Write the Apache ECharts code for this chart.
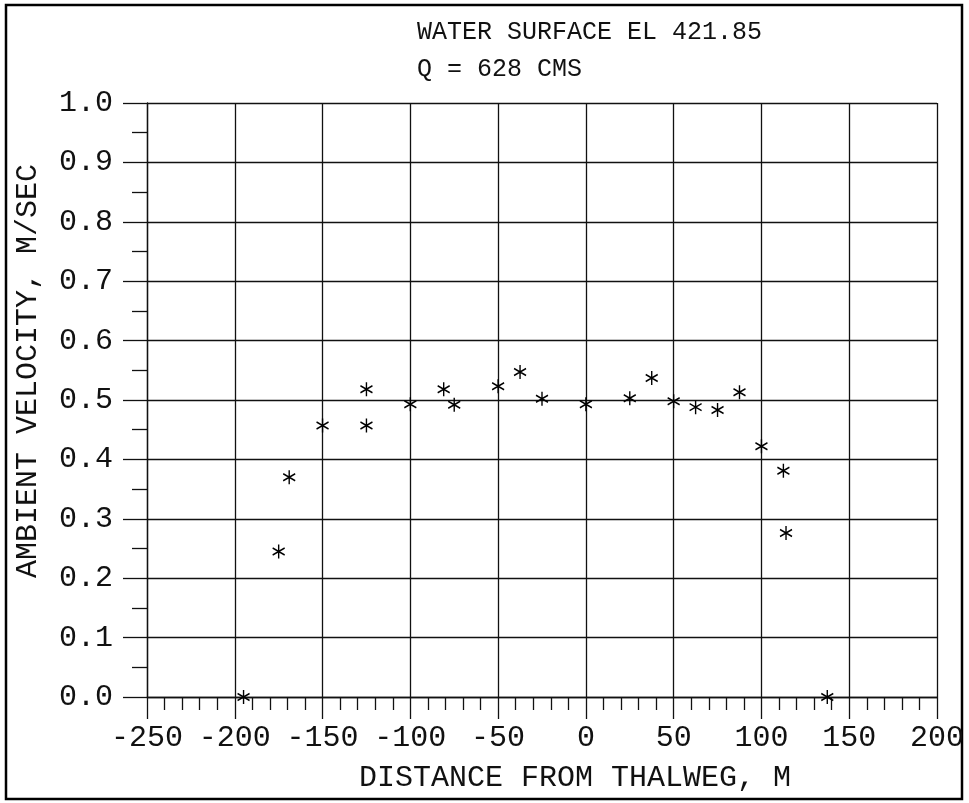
<!DOCTYPE html>
<html>
<head>
<meta charset="utf-8">
<script src="https://cdn.jsdelivr.net/npm/echarts@6/dist/echarts.min.js"></script>
<style>
  html, body { margin: 0; padding: 0; background: #fff; }
  #chart { width: 969px; height: 803px; }
</style>
</head>
<body>
<div id="chart"></div>
<script>
// Chart text
const titleLines = ['WATER SURFACE EL 421.85', 'Q = 628 CMS'];
const xAxisTitle = 'DISTANCE FROM THALWEG, M';
const yAxisTitle = 'AMBIENT VELOCITY, M/SEC';

// Axis ticks
const xTicks = [-250, -200, -150, -100, -50, 0, 50, 100, 150, 200];
const yTicks = [0.0, 0.1, 0.2, 0.3, 0.4, 0.5, 0.6, 0.7, 0.8, 0.9, 1.0];

// Measured ambient velocity across the section
const distance = [-195, -175, -169, -150, -125, -125, -100, -81, -75, -50, -37.5, -25, 0, 25, 37.5, 50, 62.5, 75, 87.5, 100, 112.5, 114, 137.5];
const velocity = [0.0, 0.245, 0.370, 0.457, 0.518, 0.457, 0.493, 0.518, 0.492, 0.523, 0.547, 0.502, 0.493, 0.503, 0.537, 0.498, 0.488, 0.483, 0.513, 0.422, 0.381, 0.276, 0.0];

const points = distance.map((d, i) => [d, velocity[i]]);

const FONT = 'Liberation Mono';
const INK = '#111';

// six-armed plotter asterisk
const asterisk = 'path://M0,-1L0,1M-0.866,-0.5L0.866,0.5M-0.866,0.5L0.866,-0.5';

const chart = echarts.init(document.getElementById('chart'), null, { renderer: 'canvas' });

chart.setOption({
  backgroundColor: '#fff',
  animation: false,
  title: [
    { text: titleLines[0], left: 412, top: 15,
      textStyle: { fontFamily: FONT, fontSize: 25, fontWeight: 'normal', color: INK } },
    { text: titleLines[1], left: 412, top: 52,
      textStyle: { fontFamily: FONT, fontSize: 25, fontWeight: 'normal', color: INK } }
  ],
  graphic: [{
    type: 'rect',
    shape: { x: 6, y: 5, width: 956, height: 794 },
    style: { fill: 'none', stroke: '#000', lineWidth: 2.5 },
    silent: true
  }],
  grid: { left: 147, right: 32, top: 103, bottom: 106, containLabel: false },
  xAxis: {
    type: 'value',
    min: xTicks[0],
    max: xTicks[xTicks.length - 1],
    interval: xTicks[1] - xTicks[0],
    name: xAxisTitle,
    nameLocation: 'middle',
    nameGap: 66,
    nameTextStyle: { fontFamily: FONT, fontSize: 30, color: INK, padding: [0, 0, 0, 66] },
    axisLine: { show: true, onZero: false, lineStyle: { color: INK, width: 1.3 } },
    axisTick: { show: true, inside: false, length: 22, lineStyle: { color: INK, width: 1.3 } },
    minorTick: { show: true, splitNumber: 5, length: 13, lineStyle: { color: INK, width: 1.3 } },
    splitLine: { show: true, lineStyle: { color: INK, width: 1.3 } },
    axisLabel: {
      margin: 26,
      fontFamily: FONT, fontSize: 30, color: INK,
      formatter: v => String(v)
    }
  },
  yAxis: {
    type: 'value',
    min: yTicks[0],
    max: yTicks[yTicks.length - 1],
    interval: 0.1,
    name: yAxisTitle,
    nameLocation: 'middle',
    nameGap: 104,
    nameTextStyle: { fontFamily: FONT, fontSize: 30, color: INK, padding: [0, 0, 0, 58] },
    axisLine: { show: true, onZero: false, lineStyle: { color: INK, width: 1.3 } },
    axisTick: { show: true, inside: false, length: 24, lineStyle: { color: INK, width: 1.3 } },
    minorTick: { show: true, splitNumber: 2, length: 15, lineStyle: { color: INK, width: 1.3 } },
    splitLine: { show: true, lineStyle: { color: INK, width: 1.3 } },
    axisLabel: {
      margin: 34,
      fontFamily: FONT, fontSize: 30, color: INK,
      formatter: v => v.toFixed(1)
    }
  },
  series: [{
    type: 'scatter',
    data: points,
    symbol: asterisk,
    symbolSize: [12, 14],
    itemStyle: { color: 'rgba(0,0,0,0)', borderColor: '#000', borderWidth: 1.5, opacity: 1 },
    clip: false,
    z: 5
  }]
});
</script>
</body>
</html>
